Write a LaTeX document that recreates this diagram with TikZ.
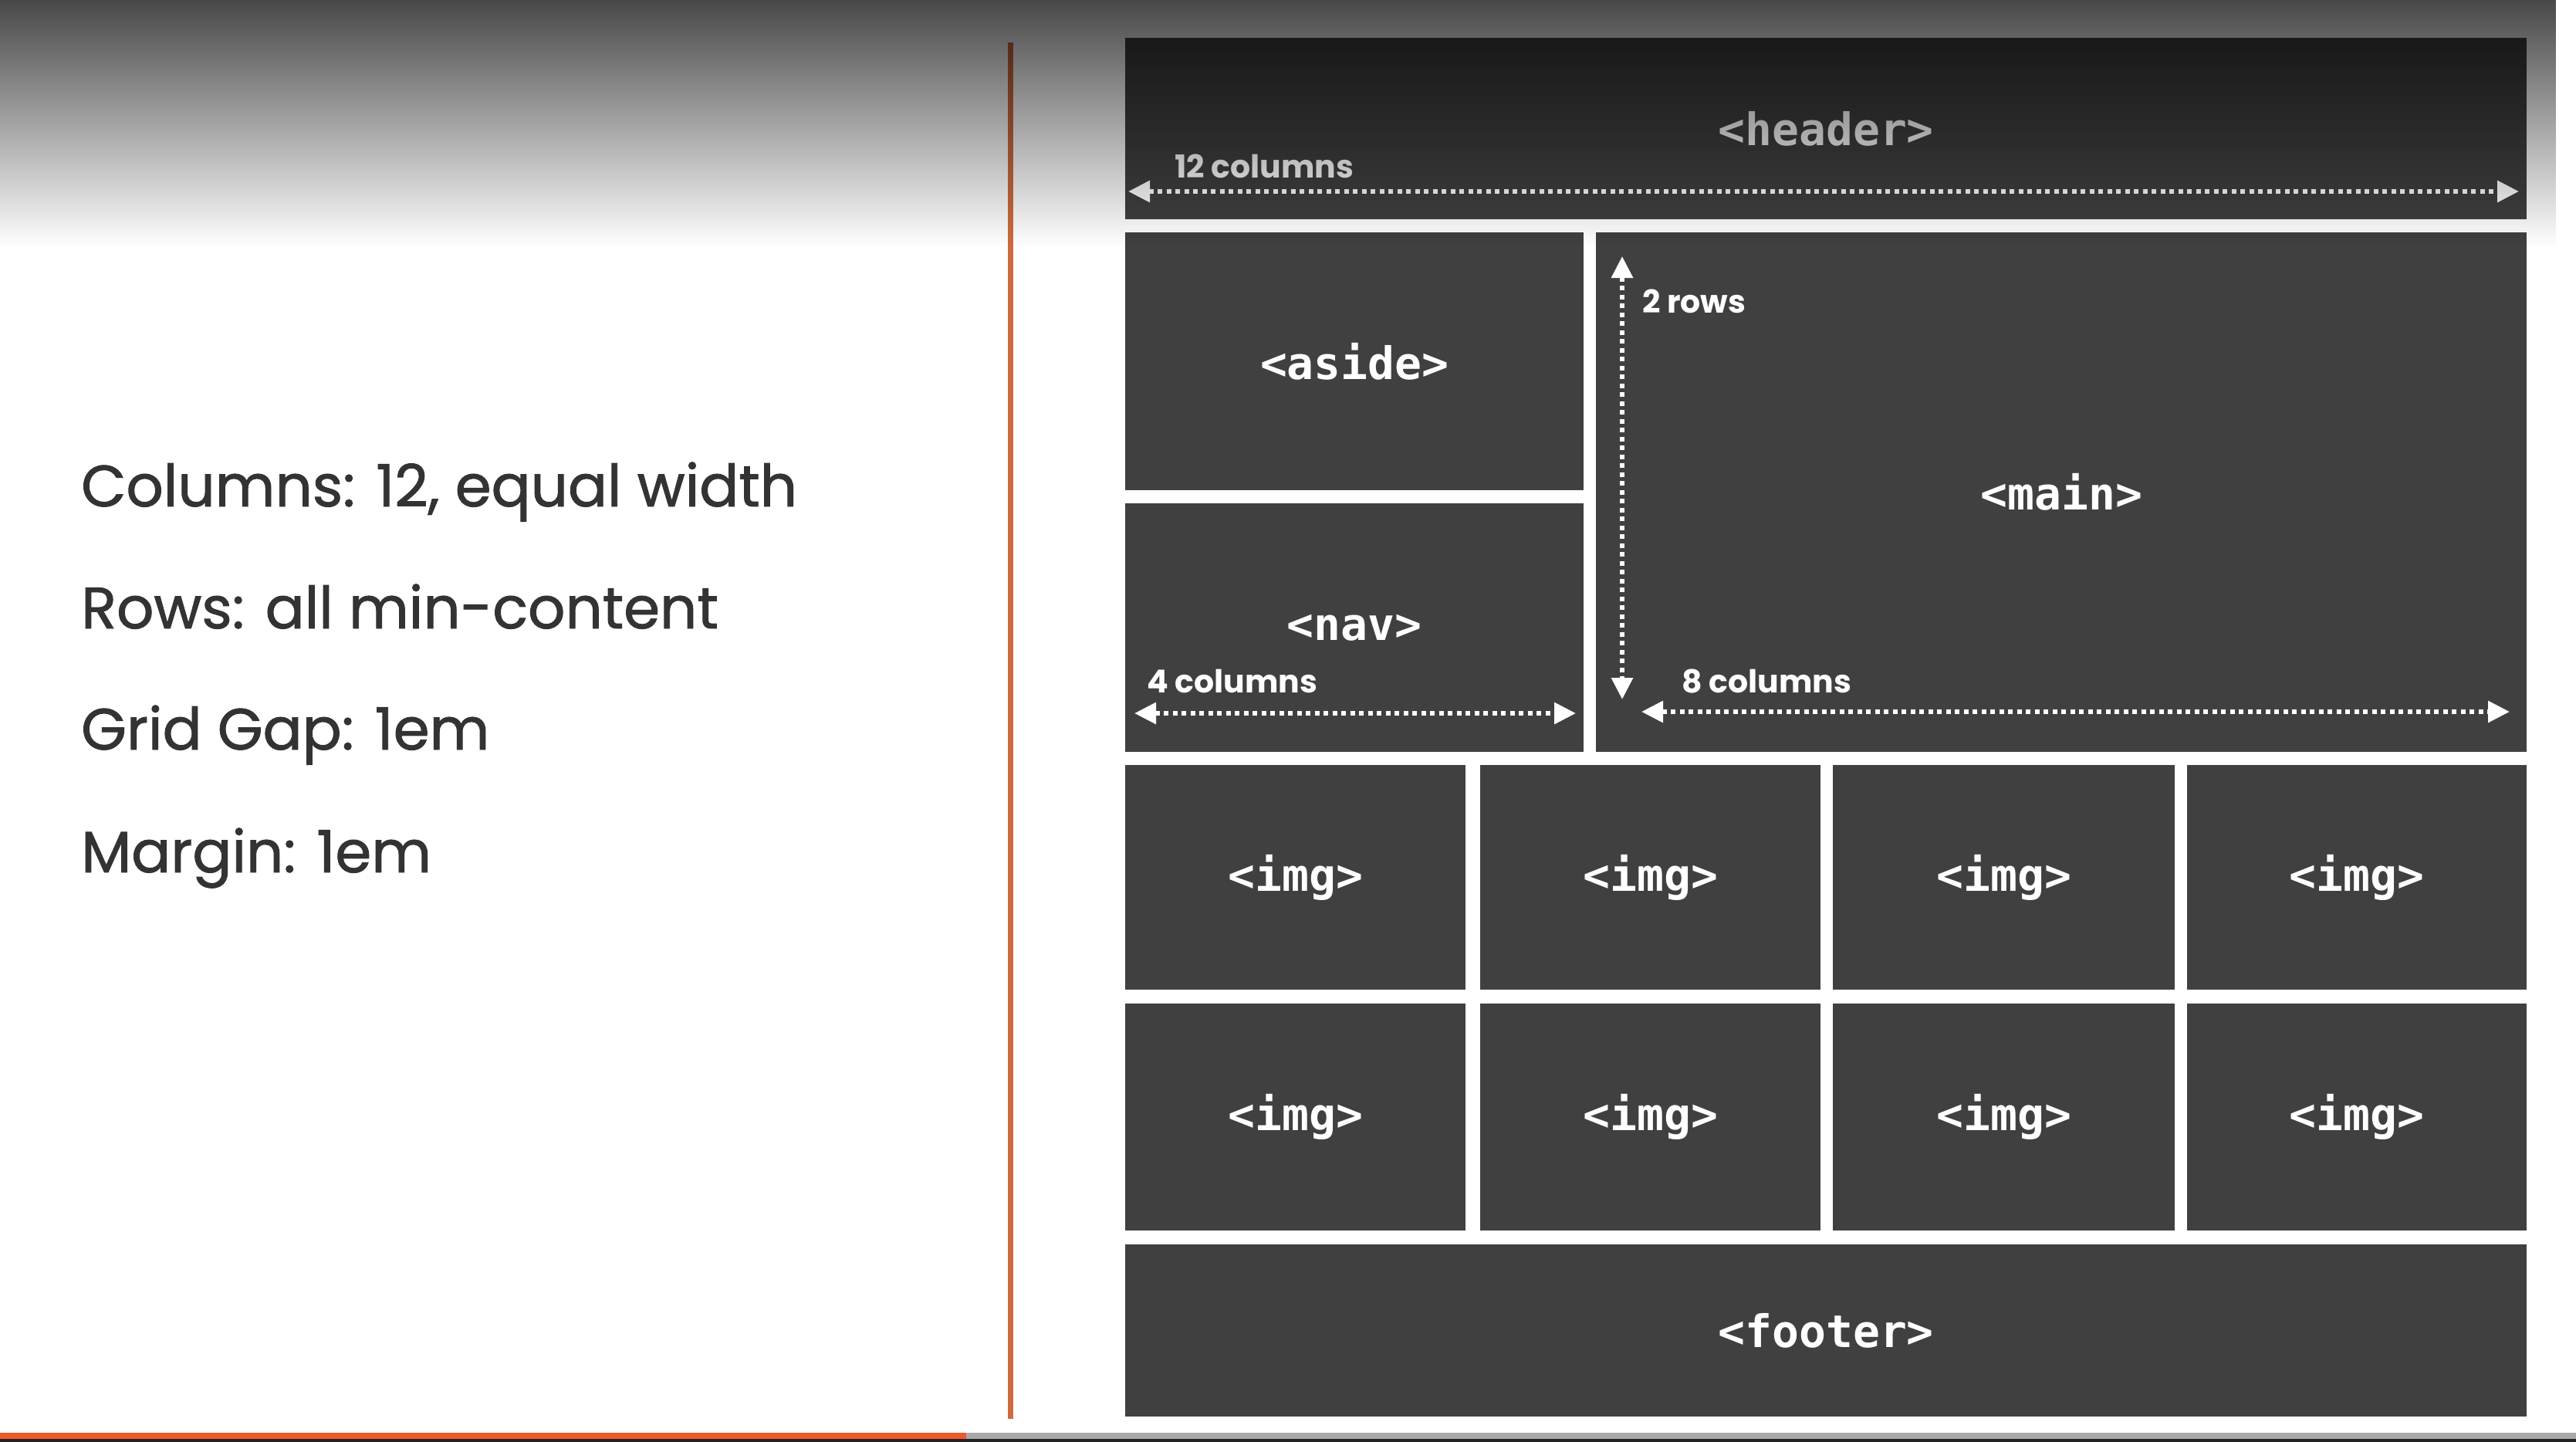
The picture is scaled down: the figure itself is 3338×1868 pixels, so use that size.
\documentclass[tikz,border=0pt]{standalone}
\usepackage{fontspec}
\setmainfont{Poppins}
\newfontfamily\pointfont{Poppins}[FakeBold=1.2]
\newfontfamily\tagfont{DejaVu Sans Mono}
\newfontfamily\notefont{Poppins}
\usetikzlibrary{arrows.meta,fadings}

\definecolor{cellgray}{HTML}{404040}
\definecolor{bodytext}{HTML}{333333}
\definecolor{rule}{HTML}{CF6B3E}
\definecolor{progress}{HTML}{F0592A}
\definecolor{track}{HTML}{A9A9A9}
\definecolor{barbase}{HTML}{222222}

\tikzfading[name=topshade, top color=transparent!28, bottom color=transparent!100]

\tikzset{
  cell/.style={fill=cellgray, inner sep=0pt, anchor=north west, text=white,
    font=\tagfont\bfseries\fontsize{58}{60}\selectfont},
  point/.style={anchor=base west, text=bodytext, inner sep=0pt,
    font=\pointfont\fontsize{75.5}{90}\selectfont},
  note/.style={anchor=base west, text=white, inner sep=0pt,
    font=\notefont\bfseries\fontsize{41}{48}\selectfont},
  measure/.style={draw=white, line width=6pt, dash pattern=on 6pt off 5.5pt,
    {Triangle[length=28pt,width=27pt]}-{Triangle[length=28pt,width=27pt]}},
}

\begin{document}
\begin{tikzpicture}[x=1pt,y=-1pt]
  \useasboundingbox (0,0) rectangle (3338,1868);
  \fill[white] (0,0) rectangle (3338,1868);

  % divider between the notes and the layout sketch
  \coordinate (rule-top) at (1309,55);
  \coordinate (rule-bot) at (1309,1838);
  \draw[rule, line width=7pt] (rule-top) -- (rule-bot);

  % notes on the left
  \node[point] (cols) at (105,656) {Columns: 12, equal width};
  \node[point] (rows) at (105,814) {Rows: all min-content};
  \node[point] (gap)  at (105,971) {Grid Gap: 1em};
  \node[point] (marg) at (105,1130) {Margin: 1em};

  % grid areas
  \node[cell, minimum width=1816pt, minimum height=235pt] (header) at (1458,49) {<header>};
  \node[cell, minimum width=594pt,  minimum height=334pt] (aside)  at (1458,301) {<aside>};
  \node[cell, minimum width=594pt,  minimum height=322pt] (nav)    at (1458,652) {<nav>};
  \node[cell, minimum width=1206pt, minimum height=673pt] (main)   at (2068,301) {<main>};

  \node[cell, minimum width=441pt, minimum height=291pt] (img11) at (1458,991) {<img>};
  \node[cell, minimum width=441pt, minimum height=291pt] (img12) at (1918,991) {<img>};
  \node[cell, minimum width=443pt, minimum height=291pt] (img13) at (2375,991) {<img>};
  \node[cell, minimum width=440pt, minimum height=291pt] (img14) at (2834,991) {<img>};
  \node[cell, minimum width=441pt, minimum height=294pt] (img21) at (1458,1300) {<img>};
  \node[cell, minimum width=441pt, minimum height=294pt] (img22) at (1918,1300) {<img>};
  \node[cell, minimum width=443pt, minimum height=294pt] (img23) at (2375,1300) {<img>};
  \node[cell, minimum width=440pt, minimum height=294pt] (img24) at (2834,1300) {<img>};

  \node[cell, minimum width=1816pt, minimum height=223pt] (footer) at (1458,1612) {<footer>};

  % span measurements
  \coordinate (hdr-l) at (1462,248);
  \coordinate (hdr-r) at (3264,248);
  \coordinate (rows-t) at (2102,332);
  \coordinate (rows-b) at (2102,906);
  \coordinate (nav-l) at (1470,924);
  \coordinate (nav-r) at (2042,924);
  \coordinate (main-l) at (2127,922);
  \coordinate (main-r) at (3252,922);

  \draw[measure] (hdr-l) -- (hdr-r);
  \draw[measure] (rows-t) -- (rows-b);
  \draw[measure] (nav-l) -- (nav-r);
  \draw[measure] (main-l) -- (main-r);

  \node[note] (n12) at (1522,230) {12 columns};
  \node[note] (n2r) at (2128,405) {2 rows};
  \node[note] (n4)  at (1486,897) {4 columns};
  \node[note] (n8)  at (2179,897) {8 columns};

  % dark haze across the top edge
  \fill[black, path fading=topshade] (0,0) rectangle (3338,320);

  % playback bar along the bottom
  \fill[progress] (0,1856) rectangle (1252,1864);
  \fill[track] (1252,1856) rectangle (3338,1864);
  \fill[barbase] (0,1864) rectangle (3338,1868);
\end{tikzpicture}
\end{document}
